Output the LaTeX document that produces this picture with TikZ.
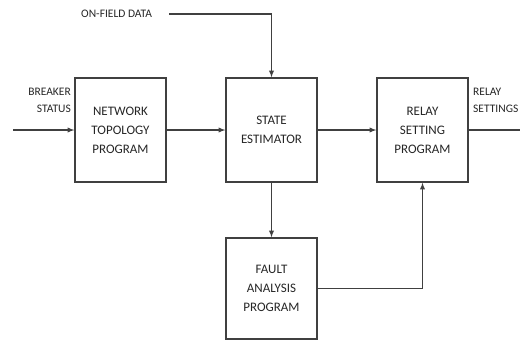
\documentclass[tikz,border=0pt]{standalone}
\usepackage{fontspec}
\setmainfont{Carlito}

\begin{document}
\begin{tikzpicture}[x=1pt,y=-1pt,
  block/.style={draw=black!75,line width=1.3pt,minimum width=91pt,
    minimum height=104pt,align=center,inner sep=0pt,
    font=\fontsize{13}{19}\selectfont,text=black!85},
  lbl/.style={font=\fontsize{11.5}{17}\selectfont,text=black!85,inner sep=0pt},
  flow/.style={draw=black!75,line width=1.3pt,-latex}]

\useasboundingbox (0,0) rectangle (520,341);

% blocks
\node[block] (topo) at (120.5,130) {NETWORK\\TOPOLOGY\\PROGRAM};
\node[block] (est) at (271.5,130) {STATE\\ESTIMATOR};
\node[block] (relay) at (422.5,130) {RELAY\\SETTING\\PROGRAM};
\node[block,minimum height=101pt] (fault) at (271.5,288.5) {FAULT\\ANALYSIS\\PROGRAM};

% outside labels
\node[lbl,anchor=west] (field) at (81,14) {ON-FIELD DATA};
\node[lbl,anchor=east,align=right] (brk) at (71,100) {BREAKER\\STATUS};
\node[lbl,anchor=west,align=left] (rset) at (473,100) {RELAY\\SETTINGS};

\coordinate (fieldin) at (169,14);
\coordinate (brkin) at (13,130);
\coordinate (relout) at (520,130);

% connectors
\draw[flow] (fieldin) -| (est.north);
\draw[flow] (brkin) -- (topo);
\draw[flow] (topo) -- (est);
\draw[flow] (est) -- (relay);
\draw[flow] (est) -- (fault);
\draw[flow] (fault.east) -| (relay.south);
\draw[draw=black!75,line width=1.3pt] (relay) -- (relout);

\end{tikzpicture}
\end{document}
